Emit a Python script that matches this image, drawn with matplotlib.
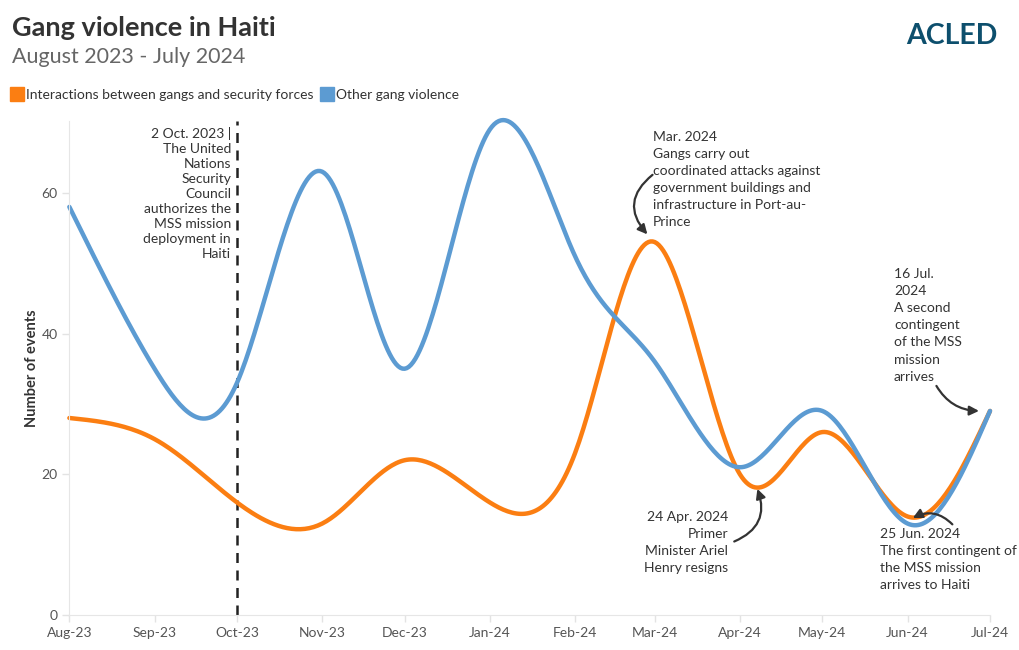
import numpy as np
import pandas as pd
import matplotlib
matplotlib.use('Agg')
import matplotlib.pyplot as plt
import matplotlib.dates as mdates
from matplotlib.lines import Line2D

plt.rcParams['font.family'] = ['Lato', 'DejaVu Sans']

months = pd.date_range('2023-08-01', '2024-07-01', freq='MS')
security = [28, 25, 16, 13, 22, 16, 23, 53, 20, 26, 14, 29]
other = [58, 35, 33, 63, 35, 69, 51, 36, 21, 29, 13, 29]

orange = '#fb7e12'
blue = '#5c9bd2'
text_col = '#333333'


def natural_ctrl(v):
    # same control points as d3.curveNatural
    v = np.asarray(v, dtype=float)
    n = len(v) - 1
    a = np.zeros(n); b = np.zeros(n); r = np.zeros(n)
    a[0], b[0], r[0] = 0, 2, v[0] + 2 * v[1]
    for i in range(1, n - 1):
        a[i], b[i], r[i] = 1, 4, 4 * v[i] + 2 * v[i + 1]
    a[n - 1], b[n - 1], r[n - 1] = 2, 7, 8 * v[n - 1] + v[n]
    for i in range(1, n):
        m = a[i] / b[i - 1]
        b[i] -= m
        r[i] -= m * r[i - 1]
    a[n - 1] = r[n - 1] / b[n - 1]
    for i in range(n - 2, -1, -1):
        a[i] = (r[i] - a[i + 1]) / b[i]
    b[n - 1] = (v[n] + a[n - 1]) / 2
    for i in range(n - 1):
        b[i] = 2 * v[i + 1] - a[i + 1]
    return a, b


def natural_curve(v, steps=40):
    v = np.asarray(v, dtype=float)
    a, b = natural_ctrl(v)
    t = np.linspace(0, 1, steps)
    out = []
    for i in range(len(v) - 1):
        seg = ((1 - t) ** 3 * v[i] + 3 * (1 - t) ** 2 * t * a[i]
               + 3 * (1 - t) * t ** 2 * b[i] + t ** 3 * v[i + 1])
        out.append(seg if i == 0 else seg[1:])
    return np.concatenate(out)


xnum = mdates.date2num(months)
xs = natural_curve(xnum)

fig = plt.figure(figsize=(10.2, 6.5), dpi=100)
ax = fig.add_axes([0.068, 0.0538, 0.9026, 0.76])

ax.plot(xs, natural_curve(security), color=orange, lw=3.2, solid_capstyle='round',
        clip_on=False)
ax.plot(xs, natural_curve(other), color=blue, lw=3.2, solid_capstyle='round',
        clip_on=False)

ax.set_xlim(xnum[0], xnum[-1])
ax.set_ylim(0, 70.2)
ax.set_yticks([0, 20, 40, 60])
ax.set_xticks(xnum)
ax.set_xticklabels([d.strftime('%b-%y') for d in months])
ax.tick_params(axis='both', colors='#e3e3e3', labelcolor='#555555', labelsize=10,
               length=5, width=1)
for s in ['top', 'right']:
    ax.spines[s].set_visible(False)
for s in ['left', 'bottom']:
    ax.spines[s].set_color('#e6e6e6')
ax.set_ylabel('Number of events', fontsize=10.5, color=text_col, fontweight='bold',
              labelpad=2)

# UN resolution line
oct2 = mdates.date2num(pd.Timestamp('2023-10-01'))
ax.axvline(oct2, color='#222222', lw=1.8, ls=(0, (4, 3)), zorder=1)

fig.text(0.012, 0.975, 'Gang violence in Haiti', fontsize=19.5, fontweight='bold',
         color=text_col, va='top')
fig.text(0.012, 0.928, 'August 2023 - July 2024', fontsize=15.5, color='#666666', va='top')
fig.text(0.978, 0.945, 'ACLED', fontsize=20.5, fontweight='bold', color='#0d4f6d',
         ha='right', va='center')

handles = [Line2D([], [], marker='s', ls='', markersize=10, color=orange),
           Line2D([], [], marker='s', ls='', markersize=10, color=blue)]
fig.legend(handles, ['Interactions between gangs and security forces', 'Other gang violence'],
           loc='upper left', bbox_to_anchor=(0.0, 0.883), ncol=2, frameon=False,
           fontsize=10, handlelength=0.7, handletextpad=0.3, columnspacing=0.6,
           labelcolor=text_col)

fs = 10
fig.text(231 / 1020, 1 - 127 / 650,
         '2 Oct. 2023 |\nThe United\nNations\nSecurity\nCouncil\nauthorizes the\nMSS mission\ndeployment in\nHaiti',
         ha='right', va='top', fontsize=fs, color=text_col, linespacing=1.3)
fig.text(653 / 1020, 1 - 131 / 650,
         'Mar. 2024\nGangs carry out\ncoordinated attacks against\ngovernment buildings and\ninfrastructure in Port-au-\nPrince',
         ha='left', va='top', fontsize=fs, color=text_col, linespacing=1.51)
fig.text(728 / 1020, 1 - 511 / 650,
         '24 Apr. 2024\nPrimer\nMinister Ariel\nHenry resigns',
         ha='right', va='top', fontsize=fs, color=text_col, linespacing=1.51)
fig.text(880 / 1020, 1 - 528 / 650,
         '25 Jun. 2024\nThe first contingent of\nthe MSS mission\narrives to Haiti',
         ha='left', va='top', fontsize=fs, color=text_col, linespacing=1.51)
fig.text(894 / 1020, 1 - 268 / 650,
         '16 Jul.\n2024\nA second\ncontingent\nof the MSS\nmission\narrives',
         ha='left', va='top', fontsize=fs, color=text_col, linespacing=1.51)


def d(s):
    return mdates.date2num(pd.Timestamp(s))


arrow = dict(arrowstyle='-|>', color=text_col, lw=1.6, mutation_scale=14)
ax.annotate('', xy=(d('2024-02-28'), 53.8), xytext=(d('2024-03-01'), 62.8),
            arrowprops=dict(arrow, connectionstyle='arc3,rad=0.55'))
ax.annotate('', xy=(d('2024-04-07'), 18.3), xytext=(d('2024-03-29'), 10.3),
            arrowprops=dict(arrow, connectionstyle='arc3,rad=0.5'))
ax.annotate('', xy=(d('2024-06-02'), 13.6), xytext=(d('2024-06-18'), 12.6),
            arrowprops=dict(arrow, connectionstyle='arc3,rad=0.4'))
ax.annotate('', xy=(d('2024-06-28'), 29.0), xytext=(d('2024-06-11'), 32.9),
            arrowprops=dict(arrow, connectionstyle='arc3,rad=0.3'))

plt.savefig('out.png', dpi=100)
